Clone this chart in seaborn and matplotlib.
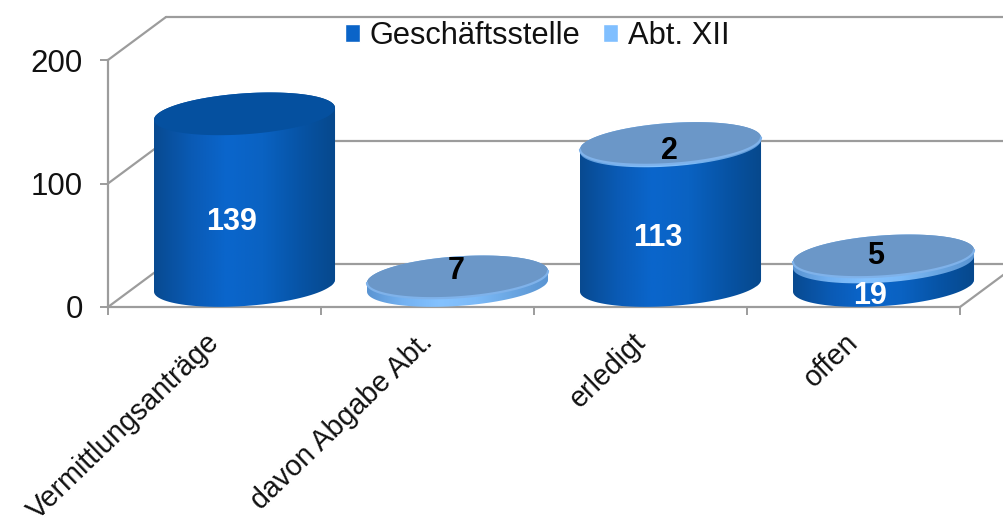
import numpy as np
import matplotlib
matplotlib.use('Agg')
import matplotlib.pyplot as plt
from matplotlib.colors import LinearSegmentedColormap
from matplotlib.patches import PathPatch
from matplotlib.path import Path
from matplotlib.transforms import ScaledTranslation
import seaborn as sns

categories = ['Vermittlungsanträge', 'davon Abgabe Abt.', 'erledigt', 'offen']
geschaeftsstelle = [139, 0, 113, 19]
abt_xii = [0, 7, 2, 5]
y_ticks = [0, 100, 200]

sns.set_style('white')
plt.rcParams['font.family'] = ['Liberation Sans', 'DejaVu Sans']

W, H = 1004, 530
GRID = '#9c9c9c'
fig = plt.figure(figsize=(W / 100, H / 100), dpi=100)
ax = fig.add_axes([108 / W, (H - 307) / H, 852 / W, 247 / H])

# 3d look: everything sits a bit back from the front plane
PX_Y = 247 / 200
DX, DY = 30 / 213, 21.5 / PX_Y     # centre of cylinders
WALL_X, WALL_Y = 58 / 213, 43 / PX_Y
ELL_B, SHEAR = 20.5 / PX_Y, 6 / PX_Y

g = np.array(geschaeftsstelle)
a = np.array(abt_xii)
sns.barplot(x=categories, y=g, bottom=DY, color='#0a64c8', width=0.85, saturation=1,
            label='Geschäftsstelle', ax=ax, zorder=2)
sns.barplot(x=categories, y=a, bottom=DY + g, color='#80bfff', width=0.85, saturation=1,
            label='Abt. XII', ax=ax, zorder=2)

ax.set_xlim(-0.5, 3.5)
ax.set_ylim(0, 200)

cm_dark = LinearSegmentedColormap.from_list('d', ['#084a90', '#0a5ab4', '#0a66cc', '#0a62c2', '#0754a6', '#06488c'])
cm_light = LinearSegmentedColormap.from_list('l', ['#5a94d2', '#74b2f2', '#84c2ff', '#7cbaf8', '#6aa6e2', '#5a94d2'])
grad = np.linspace(0, 1, 256).reshape(1, -1)


def ellipse(cx, cy, hw, t):
    return np.column_stack([cx + hw * np.cos(t), cy + ELL_B * np.sin(t) + SHEAR * np.cos(t)])


def cylinder(rect, cmap, top_color, z, rim=None):
    rect.set_x(rect.get_x() + DX)
    hw = rect.get_width() / 2
    cx = rect.get_x() + hw
    y0, y1 = rect.get_y(), rect.get_y() + rect.get_height()
    if rect.get_height() == 0:
        return cx, y1
    pts = np.vstack([ellipse(cx, y1, hw, np.linspace(0, np.pi, 60)),
                     ellipse(cx, y0, hw, np.linspace(np.pi, 2 * np.pi, 60))])
    clip = PathPatch(Path(np.vstack([pts, pts[:1]]), closed=True), transform=ax.transData,
                     fc='none', ec='none')
    ax.add_patch(clip)
    clip.set_clip_on(False)
    im = ax.imshow(grad, cmap=cmap, aspect='auto', zorder=z, interpolation='bilinear',
                   extent=[cx - hw, cx + hw, y0 - 30, y1 + 30])
    im.set_clip_box(fig.bbox)
    im.set_clip_path(clip)
    rect.set_clip_box(fig.bbox)
    rect.set_clip_path(clip)
    top = ellipse(cx, y1, hw, np.linspace(0, 2 * np.pi, 120))
    ax.fill(top[:, 0], top[:, 1], color=top_color, zorder=z + 1, lw=0, clip_on=False)
    if rim:
        low = ellipse(cx, y1, hw, np.linspace(np.pi, 2 * np.pi, 60))
        ax.plot(low[:, 0], low[:, 1], color=rim, lw=1.6, zorder=z + 1, clip_on=False)
    return cx, y1


bars = list(ax.patches)
tops = []
for rect in bars[:4]:
    tops.append(cylinder(rect, cm_dark, '#05509f', 3))
for i, rect in enumerate(bars[4:]):
    if abt_xii[i] > 0:
        tops[i] = cylinder(rect, cm_light, '#6b97c8', 5, rim='#7fb2ea')

ax.set_xlim(-0.5, 3.5)
ax.set_ylim(0, 200)

# walls and grid
line_kw = dict(color=GRID, lw=1.6, clip_on=False, zorder=1)
for v in y_ticks:
    ax.plot([-0.5, -0.5 + WALL_X], [v, v + WALL_Y], **line_kw)
    ax.plot([-0.5 + WALL_X, 3.5 + WALL_X], [v + WALL_Y, v + WALL_Y], **line_kw)
ax.plot([3.5, 3.5 + WALL_X], [0, WALL_Y], **line_kw)

# value labels
for i, v in enumerate(geschaeftsstelle):
    if v > 0:
        ax.annotate(str(v), (i, v / 2), xytext=(17, -1), textcoords='offset pixels', color='white',
                    fontsize=22, fontweight='bold', ha='center', va='center', zorder=8,
                    annotation_clip=False)
nudge = [(0, 0), (-1, 6), (-1, -8), (-8, 0)]
for i, v in enumerate(abt_xii):
    if v > 0:
        ax.annotate(str(v), tops[i], xytext=nudge[i], textcoords='offset pixels',
                    color='black', fontsize=22, fontweight='bold', ha='center', va='center', zorder=8)

sns.despine(ax=ax)
for side in ['left', 'bottom']:
    ax.spines[side].set_color(GRID)
    ax.spines[side].set_linewidth(1.6)
ax.set_yticks(y_ticks)
ax.tick_params(axis='y', labelsize=22.5, length=6, width=1.4, color=GRID, pad=12, left=True, labelcolor='#111111')
ax.set_xticks(np.arange(-0.5, 4), minor=True)
ax.tick_params(axis='x', which='minor', length=6, width=1.4, color=GRID, bottom=True)
ax.tick_params(axis='x', which='major', length=0, pad=15, labelcolor='#111111')
ax.set_xticks(range(4))
ax.set_xticklabels(categories, rotation=44, ha='right', rotation_mode='anchor', fontsize=20.6)
shift = ScaledTranslation(-9 / 100, 0, fig.dpi_scale_trans)
for lab in ax.get_xticklabels():
    lab.set_transform(lab.get_transform() + shift)

ax.legend(loc='center', bbox_to_anchor=(537 / W, (H - 36) / H), bbox_transform=fig.transFigure,
          ncol=2, frameon=False, fontsize=22.2, handlelength=0.5, handleheight=0.5,
          handletextpad=0.3, columnspacing=0.74, labelcolor='#111111')

fig.savefig('out.png', dpi=100)
